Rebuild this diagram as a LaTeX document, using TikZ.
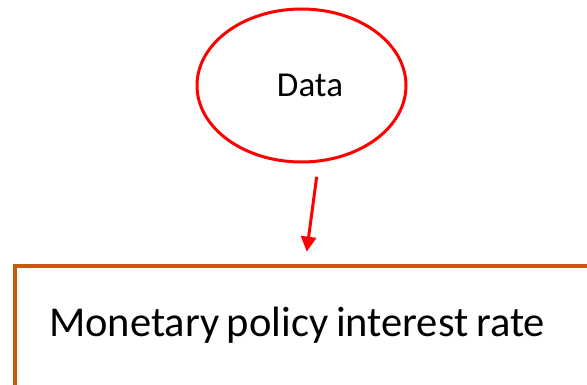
\documentclass[tikz,border=0pt]{standalone}
\usepackage{fontspec}
\setmainfont{Carlito}
\usetikzlibrary{shapes.geometric,arrows.meta}
\definecolor{rimred}{HTML}{FF0000}
\definecolor{rustline}{HTML}{C55A11}
\newcommand{\tightwords}{\spaceskip=0.18em\relax}
\tikzset{
  oval/.style={ellipse, draw=rimred, line width=3pt, inner sep=0pt,
    minimum width=209pt, minimum height=153pt,
    text height=22.4pt, text depth=0pt, font=\fontsize{35}{40}\selectfont},
  panel/.style={rectangle, draw=rustline, line width=4pt, inner ysep=0pt,
    inner xsep=34pt, text width=560pt, align=left,
    text height=70.3pt, text depth=51.7pt,
    font=\fontsize{42.5}{48}\selectfont},
  flow/.style={draw=rimred, line width=3pt,
    -{Triangle[width=15pt,length=15pt]}}
}
\begin{document}
\begin{tikzpicture}[x=1pt,y=1pt]
  \useasboundingbox (0,0) rectangle (587,-385);
  \clip (0,0) rectangle (587,-385);
  % source ellipse
  \node[oval] (data) at (301.5,-85.5) {\hspace*{17pt}Data};
  % target box, running past the right and bottom edges
  \node[panel, anchor=north west] (rate) at (13,-264) {\tightwords Monetary policy interest rate};
  % arrow between them
  \coordinate (from) at (316.7,-176.7);
  \coordinate (to) at (306.7,-251.7);
  \draw[flow] (from) -- (to);
\end{tikzpicture}
\end{document}
